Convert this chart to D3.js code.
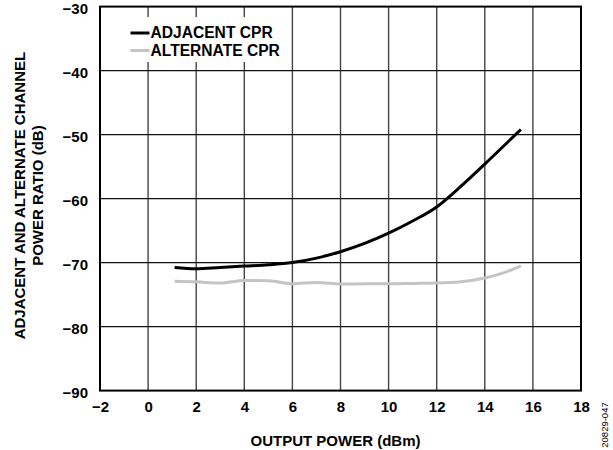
<!DOCTYPE html>
<html><head><meta charset="utf-8">
<script src="https://cdn.jsdelivr.net/npm/d3@7"></script>
<style>body{margin:0;background:#fff}svg{display:block}text{font-family:Arial,"Liberation Sans",sans-serif;font-weight:bold}</style>
</head><body><svg id="c" width="613" height="450"></svg>
<script>
const xTicks = [-2,0,2,4,6,8,10,12,14,16,18];
const yTicks = [-30,-40,-50,-60,-70,-80,-90];
const adjX = [1.1,2,3,4,5,6,7,8,9,10,11,12,13,14,15,15.5];
const adjY = [-70.75,-70.95,-70.75,-70.55,-70.35,-70.0,-69.3,-68.3,-67.0,-65.4,-63.5,-61.3,-58.1,-54.6,-51.0,-49.2];
const altX = [1.1,2,3,4,5,6,7,8,9,10,11,12,13,14,15,15.5];
const altY = [-72.9,-73.0,-73.2,-72.8,-72.85,-73.3,-73.1,-73.35,-73.3,-73.3,-73.25,-73.2,-73.0,-72.4,-71.3,-70.5];
const seriesNames = ["ADJACENT CPR","ALTERNATE CPR"];

const svg = d3.select("#c");
const L=100,R=581,T=6.6,B=390.6;
const FS=15;
const x = d3.scaleLinear().domain([-2,18]).range([L,R]);
const y = d3.scaleLinear().domain([-90,-30]).range([B,T]);

// grid
svg.append("g").selectAll("line").data(xTicks.slice(1,-1)).join("line")
  .attr("x1",d=>x(d)).attr("x2",d=>x(d)).attr("y1",T).attr("y2",B)
  .attr("stroke","#444").attr("stroke-width",1.4);
svg.append("g").selectAll("line").data(yTicks.slice(1,-1)).join("line")
  .attr("y1",d=>y(d)).attr("y2",d=>y(d)).attr("x1",L).attr("x2",R)
  .attr("stroke","#111").attr("stroke-width",1.2);

// axes labels via d3 axes
const xa = svg.append("g").attr("transform",`translate(0,${B})`)
  .call(d3.axisBottom(x).tickValues(xTicks).tickSize(0).tickPadding(11).tickFormat(d=>d<0?"\u2212"+Math.abs(d):d));
const ya = svg.append("g").attr("transform",`translate(${L},2.5)`)
  .call(d3.axisLeft(y).tickValues(yTicks).tickSize(0).tickPadding(12).tickFormat(d=>"\u2212"+Math.abs(d)));
[xa,ya].forEach(a=>{a.select(".domain").remove();a.selectAll("text").attr("font-size",FS).attr("font-family","Arial,'Liberation Sans',sans-serif").attr("font-weight","bold").attr("fill","#000");});
xa.selectAll("text").attr("dy","0.71em");

// legend box
svg.append("rect").attr("x",122).attr("y",17).attr("width",164).attr("height",45).attr("fill","#fff");

// lines
const line = d3.line().x(d=>x(d[0])).y(d=>y(d[1])).curve(d3.curveMonotoneX);
svg.append("path").datum(altX.map((v,i)=>[v,altY[i]])).attr("d",line)
  .attr("fill","none").attr("stroke","#c4c4c4").attr("stroke-width",3);
svg.append("path").datum(adjX.map((v,i)=>[v,adjY[i]])).attr("d",line)
  .attr("fill","none").attr("stroke","#000").attr("stroke-width",3);

// frame
svg.append("rect").attr("x",L).attr("y",T).attr("width",R-L).attr("height",B-T)
  .attr("fill","none").attr("stroke","#000").attr("stroke-width",2);

// legend
const lg = svg.append("g");
[["#000",33],["#c4c4c4",50.5]].forEach((s,i)=>{
  lg.append("line").attr("x1",130.5).attr("x2",149.5).attr("y1",s[1]).attr("y2",s[1]).attr("stroke",s[0]).attr("stroke-width",3);
  lg.append("text").attr("x",150.5).attr("y",s[1]+5.3).attr("font-size",15.6).text(seriesNames[i]);
});

// titles
svg.append("text").attr("x",(L+R)/2-5).attr("y",446).attr("text-anchor","middle").attr("font-size",FS).text("OUTPUT POWER (dBm)");
const yt = svg.append("text").attr("transform",`translate(25,${(T+B)/2-3}) rotate(-90)`).attr("text-anchor","middle").attr("font-size",FS);
yt.append("tspan").attr("x",0).attr("dy",0).text("ADJACENT AND ALTERNATE CHANNEL");
yt.append("tspan").attr("x",0).attr("dy",18).text("POWER RATIO (dB)");
svg.append("text").attr("transform","translate(608,425) rotate(-90)").attr("text-anchor","middle")
  .attr("font-size",9.5).attr("font-weight","normal").style("font-weight","normal").text("20829-047");
</script></body></html>
